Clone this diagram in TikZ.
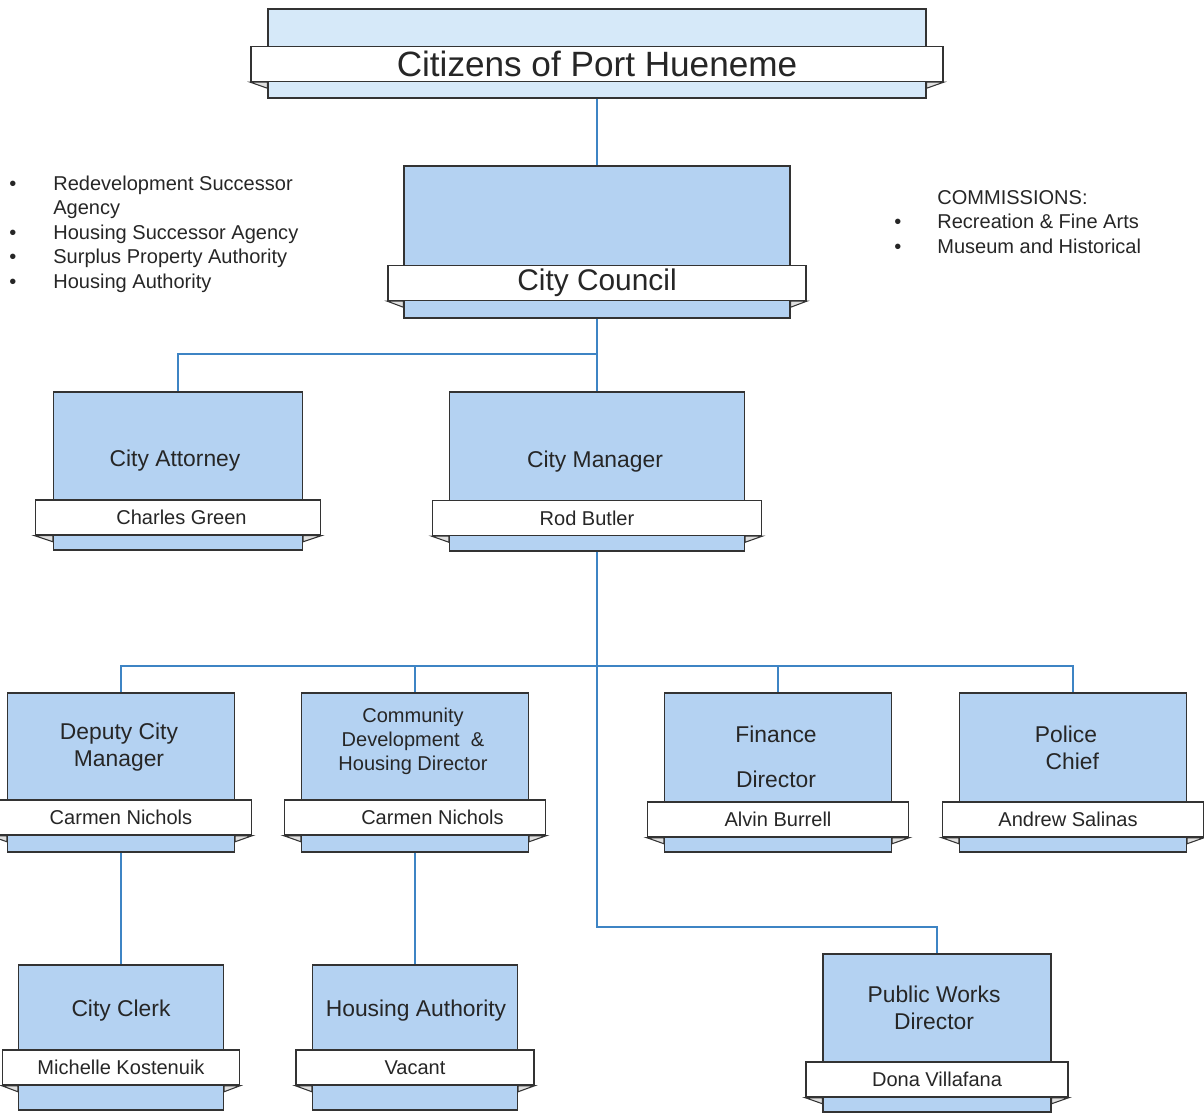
\documentclass[tikz,border=0pt]{standalone}
\usepackage{fontspec}
\setmainfont{Liberation Sans}
\usepackage{tikz}
\usetikzlibrary{calc}

\definecolor{boxblue}{RGB}{180,210,242}
\definecolor{paleblue}{RGB}{214,233,249}
\definecolor{linkblue}{RGB}{62,132,196}

\tikzset{
  postbox/.style 2 args={draw=black!80, fill=boxblue, line width=0.8pt, inner sep=0pt,
    minimum width=#1*0.2mm, minimum height=#2*0.2mm},
  namebar/.style={draw=black!80, fill=white, line width=0.8pt, inner sep=0pt,
    minimum width=#1*0.2mm, minimum height=7mm, text=black!85,
    font=\fontsize{11.4}{13.6}\selectfont},
  posttitle/.style={font=\fontsize{13}{15.3}\selectfont, align=center, text=black!85},
  listtext/.style={font=\fontsize{11.4}{13.9}\selectfont, text=black!85, inner sep=0pt, anchor=north west},
  link/.style={draw=linkblue, line width=1pt},
  foldtip/.style={draw=black!80, fill=black!12, line width=0.6pt},
}

% small folded ends under a name bar
\newcommand\folds[2]{%
  \draw[foldtip] (#1.south west) -- ($(#2.west |- #1.south)+(0,6)$) -- (#2.west |- #1.south) -- cycle;
  \draw[foldtip] (#1.south east) -- ($(#2.east |- #1.south)+(0,6)$) -- (#2.east |- #1.south) -- cycle;
}

\begin{document}
\begin{tikzpicture}[x=0.2mm, y=-0.2mm]
  \useasboundingbox (0,0) rectangle (1204,1115);

  % boxes
  \node[postbox={658}{89}, fill=paleblue] (citizens) at (597,53.5) {};
  \node[postbox={386}{152}] (council) at (597,242) {};
  \node[postbox={249}{158}] (attorney) at (178,471) {};
  \node[postbox={295}{159}] (manager) at (597,471.5) {};
  \node[postbox={227}{159}] (deputy) at (121,772.5) {};
  \node[postbox={227}{159}] (community) at (415,772.5) {};
  \node[postbox={227}{159}] (finance) at (778,772.5) {};
  \node[postbox={227}{159}] (police) at (1073,772.5) {};
  \node[postbox={205}{145}] (clerk) at (121,1037.5) {};
  \node[postbox={205}{145}] (housing) at (415,1037.5) {};
  \node[postbox={228}{158}] (works) at (937,1033) {};

  % name bars
  \node[namebar=692, font=\fontsize{20}{24}\selectfont] (citizensbar) at (597,64) {Citizens of Port Hueneme};
  \folds{citizensbar}{citizens}
  \node[namebar=418, font=\fontsize{17}{20}\selectfont] (councilbar) at (597,283) {City Council};
  \folds{councilbar}{council}
  \node[namebar=285] (attorneybar) at (178,517.5) {\hspace*{1.4mm}Charles Green};
  \folds{attorneybar}{attorney}
  \node[namebar=329] (managerbar) at (597,518) {Rod Butler\hspace*{4mm}};
  \folds{managerbar}{manager}
  \node[namebar=261] (deputybar) at (121,817.5) {Carmen Nichols};
  \folds{deputybar}{deputy}
  \node[namebar=261] (communitybar) at (415,817.5) {\hspace*{7mm}Carmen Nichols};
  \folds{communitybar}{community}
  \node[namebar=261] (financebar) at (778,819.5) {Alvin Burrell};
  \folds{financebar}{finance}
  \node[namebar=261] (policebar) at (1073,819.5) {Andrew Salinas\hspace*{2mm}};
  \folds{policebar}{police}
  \node[namebar=237] (clerkbar) at (121,1067.5) {Michelle Kostenuik};
  \folds{clerkbar}{clerk}
  \node[namebar=238] (housingbar) at (415,1067.5) {Vacant};
  \folds{housingbar}{housing}
  \node[namebar=262] (worksbar) at (937,1079.5) {Dona Villafana};
  \folds{worksbar}{works}

  % titles
  \node[posttitle] (attorneytitle) at (175,461) {City Attorney};
  \node[posttitle] (managertitle) at (595,462) {City Manager};
  \node[posttitle] (deputytitle) at (119,747) {Deputy City\\Manager};
  \node[posttitle, font=\fontsize{11.4}{13.6}\selectfont] (communitytitle) at (413,741) {Community\\Development~ \&\\Housing Director};
  \node[posttitle] (financetitle) at (776,757) {Finance\\[10pt]Director};
  \node[posttitle] (policetitle) at (1066,748) {Police\\~~Chief};
  \node[posttitle] (clerktitle) at (121,1011) {City Clerk};
  \node[posttitle] (housingtitle) at (416,1011) {Housing Authority};
  \node[posttitle] (workstitle) at (934,1008) {Public Works\\Director};

  % side lists
  \node[listtext] (boards) at (9,173) {\begin{tabular}{@{}p{8.8mm}@{}l@{}}
    \textbullet & Redevelopment Successor\\
                & Agency\\
    \textbullet & Housing Successor Agency\\
    \textbullet & Surplus Property Authority\\
    \textbullet & Housing Authority
  \end{tabular}};
  \node[listtext] (commissions) at (894,187) {\begin{tabular}{@{}p{8.6mm}@{}l@{}}
                & COMMISSIONS:\\
    \textbullet & Recreation \& Fine Arts\\
    \textbullet & Museum and Historical
  \end{tabular}};

  % connectors
  \coordinate (j1) at (597,354);
  \coordinate (j2) at (597,666);
  \coordinate (j3) at (597,927);
  \path[link] (citizens) edge (council);
  \path[link] (council) edge (manager);
  \draw[link] (j1) -| (attorney);
  \draw[link] (manager) -- (j2) -- (j3) -| (works);
  \draw[link] (j2) -| (deputy);
  \draw[link] (j2) -| (community);
  \draw[link] (j2) -| (finance);
  \draw[link] (j2) -| (police);
  \draw[link] (deputy) -- (clerk);
  \draw[link] (community) -- (housing);

\end{tikzpicture}
\end{document}
